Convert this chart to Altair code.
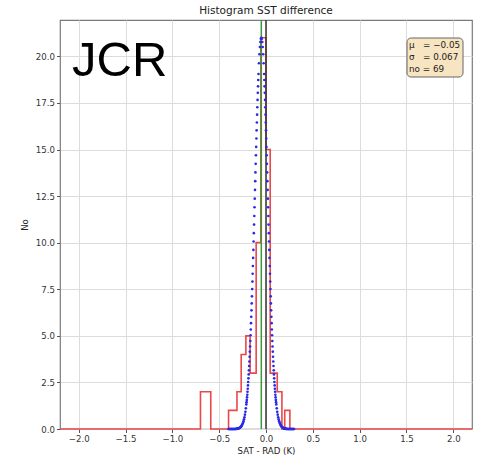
import altair as alt
import pandas as pd

# ---- data ----
hist_edges = [-2.2, -0.70, -0.59, -0.40, -0.31, -0.265, -0.215, -0.17, -0.105,
              -0.055, 0.0, 0.045, 0.12, 0.17, 0.20, 0.255, 2.2]
hist_counts = [0, 2, 0, 1, 2, 4, 5, 3, 10, 21, 15, 3, 2, 0, 1, 0]

fit_center = -0.05
fit_offsets = [0.0, 0.005, 0.01, 0.015, 0.02, 0.025, 0.03, 0.0325, 0.035, 0.0375,
               0.04, 0.0425, 0.045, 0.0475, 0.05, 0.0525, 0.055, 0.0575, 0.06, 0.0625,
               0.065, 0.0675, 0.07, 0.0725, 0.075, 0.0775, 0.08, 0.0825, 0.085, 0.0875,
               0.09, 0.0925, 0.095, 0.0975, 0.1, 0.1025, 0.105, 0.1075, 0.11, 0.1125,
               0.115, 0.1175, 0.12, 0.1225, 0.125, 0.1275, 0.13, 0.1325, 0.135, 0.1375,
               0.14, 0.1425, 0.145, 0.1475, 0.15, 0.1525, 0.155, 0.1575, 0.16, 0.165,
               0.17, 0.175, 0.18, 0.185, 0.19, 0.195, 0.2, 0.205, 0.21, 0.215,
               0.22, 0.225, 0.23, 0.235, 0.24, 0.245, 0.25, 0.255, 0.26, 0.265,
               0.27, 0.275, 0.28, 0.285, 0.29, 0.295, 0.3, 0.305, 0.31, 0.315,
               0.32, 0.325, 0.33, 0.335, 0.34, 0.345, 0.35]
fit_counts = [21.00, 20.94, 20.77, 20.50, 20.11, 19.63, 19.05, 18.73, 18.39, 18.04,
              17.66, 17.27, 16.87, 16.45, 16.03, 15.59, 15.14, 14.69, 14.23, 13.77,
              13.30, 12.83, 12.36, 11.90, 11.43, 10.97, 10.51, 10.06, 9.61, 9.18,
              8.75, 8.33, 7.91, 7.51, 7.12, 6.74, 6.37, 6.02, 5.68, 5.34,
              5.03, 4.72, 4.43, 4.15, 3.88, 3.62, 3.38, 3.15, 2.93, 2.72,
              2.52, 2.34, 2.16, 2.00, 1.84, 1.70, 1.56, 1.44, 1.32, 1.11,
              0.92, 0.77, 0.63, 0.52, 0.42, 0.34, 0.28, 0.22, 0.18, 0.14,
              0.11, 0.09, 0.07, 0.05, 0.04, 0.03, 0.02, 0.02, 0.01, 0.01,
              0.01, 0.0, 0.0, 0.0, 0.0, 0.0, 0.0, 0.0, 0.0, 0.0,
              0.0, 0.0, 0.0, 0.0, 0.0, 0.0, 0.0]

mean_value = -0.05
zero_value = 0.0
x_ticks = [-2.0, -1.5, -1.0, -0.5, 0.0, 0.5, 1.0, 1.5, 2.0]
y_ticks = [0.0, 2.5, 5.0, 7.5, 10.0, 12.5, 15.0, 17.5, 20.0]
stats_lines = ["μ\u00a0\u00a0 = −0.05", "σ\u00a0\u00a0 = 0.067", "no = 69"]
site_label = "JCR"
chart_title = "Histogram SST difference"

# ---- tables ----
hist_df = pd.DataFrame({"x": hist_edges, "y": hist_counts + [0]})
fx, fy = [], []
for d, c in zip(fit_offsets, fit_counts):
    fx.append(fit_center - d); fy.append(c)
    if d != 0:
        fx.append(fit_center + d); fy.append(c)
fit_df = pd.DataFrame({"x": fx, "y": fy})
mean_df = pd.DataFrame({"x": [mean_value]})
zero_df = pd.DataFrame({"x": [zero_value]})
one_df = pd.DataFrame({"t": [site_label]})

FONT = "DejaVu Sans"
xs = alt.Scale(domain=[-2.2, 2.2], nice=False, zero=False)
ys = alt.Scale(domain=[0, 21.95], nice=False, zero=False)

x_axis = alt.Axis(values=x_ticks, format=".1f", title="SAT - RAD (K)",
                  grid=True, gridColor="#dcdcdc", gridWidth=1, domain=False,
                  tickColor="#555555", tickSize=3.5, labelFontSize=8.6,
                  labelColor="#333333", labelFont=FONT, labelPadding=2,
                  titleFont=FONT, titleFontSize=8.6, titleFontWeight="normal",
                  titleColor="#222222", titlePadding=3)
y_axis = alt.Axis(values=y_ticks, format=".1f", title="No",
                  grid=True, gridColor="#dcdcdc", gridWidth=1, domain=False,
                  tickColor="#555555", tickSize=3.5, labelFontSize=8.6,
                  labelColor="#333333", labelFont=FONT, labelPadding=2,
                  titleFont=FONT, titleFontSize=8.6, titleFontWeight="normal",
                  titleColor="#222222", titlePadding=6)

hist = alt.Chart(hist_df).mark_line(interpolate="step-after", color="#e84848",
                                    strokeWidth=1.6).encode(
    x=alt.X("x:Q", scale=xs, axis=x_axis),
    y=alt.Y("y:Q", scale=ys, axis=y_axis),
)
mean_rule = alt.Chart(mean_df).mark_rule(color="#3a9a3a", strokeWidth=1.5).encode(
    x=alt.X("x:Q", scale=xs))
zero_rule = alt.Chart(zero_df).mark_rule(color="#333333", strokeWidth=1.5).encode(
    x=alt.X("x:Q", scale=xs))
fit = alt.Chart(fit_df).mark_circle(color="#2a2ae6", size=7, opacity=1).encode(
    x=alt.X("x:Q", scale=xs),
    y=alt.Y("y:Q", scale=ys),
)
label = alt.Chart(one_df).mark_text(align="left", baseline="alphabetic",
                                    fontSize=49, font="Liberation Sans",
                                    color="black").encode(
    x=alt.value(12), y=alt.value(56), text="t:N")
box = alt.Chart(one_df).mark_rect(fill="#f7e4c1", stroke="#666666", strokeWidth=1,
                                  cornerRadius=4).encode(
    x=alt.value(347), x2=alt.value(403), y=alt.value(18), y2=alt.value(57))
stats = alt.Chart(one_df).mark_text(align="left", baseline="top", fontSize=8.8,
                                    font=FONT, color="#222222", lineHeight=12).encode(
    x=alt.value(349), y=alt.value(21), text=alt.value(stats_lines))

chart = alt.layer(hist, mean_rule, zero_rule, fit, label, box, stats).properties(
    width=412, height=409,
    title=alt.TitleParams(chart_title, font=FONT, fontSize=10.5,
                          fontWeight="normal", color="#222222", offset=3),
    autosize=alt.AutoSizeParams(type="none"),
    padding={"left": 60, "top": 20, "right": 9, "bottom": 33},
).configure_view(stroke="#7a7a7a", strokeWidth=1.2)

chart.save("out.html", embed_options={"renderer": "svg", "actions": False})
